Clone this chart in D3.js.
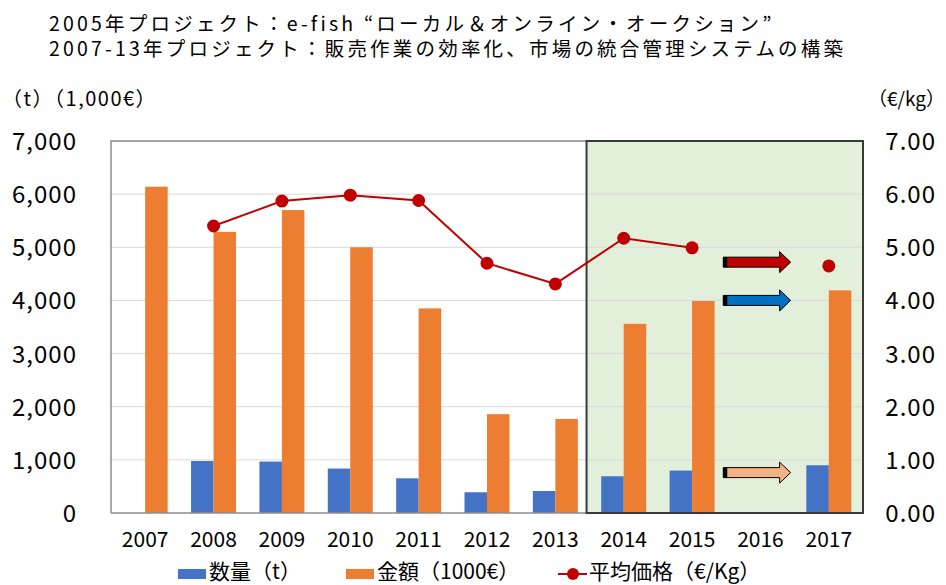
<!DOCTYPE html>
<html>
<head>
<meta charset="utf-8">
<script src="https://cdn.jsdelivr.net/npm/d3@7"></script>
<style>
  body { margin: 0; background: #ffffff; }
  text { font-family: "Noto Sans CJK JP", "Noto Sans", sans-serif; fill: #000000; }
</style>
</head>
<body>
<svg id="chart" width="946" height="585"></svg>
<script>
// data
const years = ["2007", "2008", "2009", "2010", "2011", "2012", "2013", "2014", "2015", "2016", "2017"];
const quantity = [null, 979, 968, 836, 653, 390, 414, 691, 798, null, 898];        // t
const amount = [6140, 5290, 5700, 5000, 3850, 1860, 1770, 3560, 3990, null, 4190]; // 1000 EUR
const avgPrice = [null, 5.40, 5.87, 5.98, 5.88, 4.70, 4.31, 5.17, 4.99, null, 4.65]; // EUR/kg
const leftTicks = [0, 1000, 2000, 3000, 4000, 5000, 6000, 7000];
const rightTicks = [0, 1, 2, 3, 4, 5, 6, 7];
const titleLines = [
  "2005年プロジェクト：e-fish “ローカル＆オンライン・オークション”",
  "2007-13年プロジェクト：販売作業の効率化、市場の統合管理システムの構築"
];
const legendLabels = ["数量（t）", "金額（1000€）", "平均価格（€/Kg）"];
const highlightYears = ["2014", "2017"];
// trend arrows in the 2016 slot: level on its own axis
const arrowLevels = [
  { axis: "right", value: 4.72, color: "#c00000" },
  { axis: "left", value: 4000, color: "#0070c0" },
  { axis: "left", value: 760, color: "#f4b183" }
];

const blueColor = "#4472c4";
const orangeColor = "#ed7d31";
const redColor = "#c00000";

const plotLeft = 111, plotRight = 863, plotTop = 141, plotBottom = 513;

let svg = d3.select("#chart");

let x = d3.scaleBand()
  .domain(years)
  .range([plotLeft, plotRight])
  .paddingInner(0.342)
  .paddingOuter(0.171);

let xStep = d3.scaleBand()
  .domain(years)
  .range([plotLeft, plotRight]);

let xSeries = d3.scaleBand()
  .domain(["quantity", "amount"])
  .range([0, x.bandwidth()]);

let yLeft = d3.scaleLinear()
  .domain([0, 7000])
  .range([plotBottom, plotTop]);

let yRight = d3.scaleLinear()
  .domain([0, 7])
  .range([plotBottom, plotTop]);

// green box for the later project years
let boxX0 = xStep(highlightYears[0]) - 3;
let boxX1 = xStep(highlightYears[1]) + xStep.step();
svg.append("rect")
  .attr("x", boxX0)
  .attr("y", plotTop)
  .attr("width", boxX1 - boxX0)
  .attr("height", plotBottom - plotTop)
  .style("fill", "#e2efda");

// gridlines
svg.append("g")
  .selectAll("line")
  .data(leftTicks.slice(1))
  .enter()
  .append("line")
  .attr("x1", plotLeft)
  .attr("x2", plotRight)
  .attr("y1", d => yLeft(d))
  .attr("y2", d => yLeft(d))
  .style("stroke", "#d9d9d9")
  .style("stroke-width", 1);

// plot frame (left, top)
svg.append("path")
  .attr("d", "M" + plotLeft + "," + plotBottom + "V" + plotTop + "H" + boxX0)
  .style("fill", "none")
  .style("stroke", "#8c8c8c")
  .style("stroke-width", 1.5);

let rows = years.map((y, i) => ({ year: y, quantity: quantity[i], amount: amount[i], price: avgPrice[i] }));

// bars
svg.append("g")
  .selectAll("rect")
  .data(rows.filter(d => d.quantity != null))
  .enter()
  .append("rect")
  .attr("x", d => x(d.year) + xSeries("quantity"))
  .attr("y", d => yLeft(d.quantity))
  .attr("width", xSeries.bandwidth())
  .attr("height", d => yLeft(0) - yLeft(d.quantity))
  .style("fill", blueColor);

svg.append("g")
  .selectAll("rect")
  .data(rows.filter(d => d.amount != null))
  .enter()
  .append("rect")
  .attr("x", d => x(d.year) + xSeries("amount"))
  .attr("y", d => yLeft(d.amount))
  .attr("width", xSeries.bandwidth())
  .attr("height", d => yLeft(0) - yLeft(d.amount))
  .style("fill", orangeColor);

// bottom axis line
svg.append("line")
  .attr("x1", plotLeft)
  .attr("x2", boxX0)
  .attr("y1", plotBottom)
  .attr("y2", plotBottom)
  .style("stroke", "#8c8c8c")
  .style("stroke-width", 1.5);

// green box border on top
svg.append("rect")
  .attr("x", boxX0)
  .attr("y", plotTop)
  .attr("width", boxX1 - boxX0)
  .attr("height", plotBottom - plotTop)
  .style("fill", "none")
  .style("stroke", "#3a3a3a")
  .style("stroke-width", 2);

// price line
let cx = d => x(d.year) + x.bandwidth() / 2;
svg.append("path")
  .datum(rows)
  .attr("d", d3.line()
    .defined(d => d.price != null)
    .x(cx)
    .y(d => yRight(d.price)))
  .style("fill", "none")
  .style("stroke", redColor)
  .style("stroke-width", 2);

svg.append("g")
  .selectAll("circle")
  .data(rows.filter(d => d.price != null))
  .enter()
  .append("circle")
  .attr("cx", cx)
  .attr("cy", d => yRight(d.price))
  .attr("r", 6.5)
  .style("fill", redColor);

// arrows
let arrowYear = "2016";
arrowLevels.forEach(function (a) {
  let yy = a.axis == "right" ? yRight(a.value) : yLeft(a.value);
  let ax0 = xStep(arrowYear) - 3;
  let ax1 = xStep(arrowYear) + xStep.step() - 4;
  let headLen = 11, bodyH = 5, headH = 10.5;
  let g = svg.append("g");
  g.append("path")
    .attr("d", "M" + ax0 + "," + (yy - bodyH) +
      "H" + (ax1 - headLen) + "V" + (yy - headH) +
      "L" + ax1 + "," + yy +
      "L" + (ax1 - headLen) + "," + (yy + headH) +
      "V" + (yy + bodyH) + "H" + ax0 + "Z")
    .style("fill", a.color)
    .style("stroke", "#000000")
    .style("stroke-width", 1);
  g.append("rect")
    .attr("x", ax0)
    .attr("y", yy - bodyH)
    .attr("width", 4)
    .attr("height", bodyH * 2)
    .style("fill", "#000000");
});

// left ticks
svg.append("g")
  .selectAll("text")
  .data(leftTicks)
  .enter()
  .append("text")
  .attr("x", 77)
  .attr("y", d => yLeft(d) + 9)
  .text(d => d3.format(",")(d))
  .style("font-size", "24px")
  .style("letter-spacing", "1px")
  .style("text-anchor", "end");

// right ticks
svg.append("g")
  .selectAll("text")
  .data(rightTicks)
  .enter()
  .append("text")
  .attr("x", 936)
  .attr("y", d => yRight(d) + 9)
  .text(d => d3.format(".2f")(d))
  .style("font-size", "24px")
  .style("letter-spacing", "1px")
  .style("text-anchor", "end");

// x labels
svg.append("g")
  .selectAll("text")
  .data(years)
  .enter()
  .append("text")
  .attr("x", d => x(d) + x.bandwidth() / 2)
  .attr("y", 547)
  .text(d => d)
  .style("font-size", "21px")
  .style("text-anchor", "middle");

// title, two lines
svg.append("g")
  .selectAll("text")
  .data(titleLines)
  .enter()
  .append("text")
  .attr("x", 49)
  .attr("y", (d, i) => 31 + i * 25)
  .text(d => d)
  .style("font-size", "19.5px")
  .style("letter-spacing", "3.2px");

// axis units
svg.append("text")
  .attr("x", 2)
  .attr("y", 106)
  .text("（t）（1,000€）")
  .style("font-size", "20px")
  .style("letter-spacing", "1.5px");

svg.append("text")
  .attr("x", 945)
  .attr("y", 106)
  .text("（€/kg）")
  .style("font-size", "19px")
  .style("text-anchor", "end");

// legend
let legendX = [178, 346, 558];
let legend = svg.append("g");
legend.append("rect")
  .attr("x", legendX[0]).attr("y", 569).attr("width", 28).attr("height", 10)
  .style("fill", blueColor);
legend.append("rect")
  .attr("x", legendX[1]).attr("y", 569).attr("width", 28).attr("height", 10)
  .style("fill", orangeColor);
legend.append("line")
  .attr("x1", legendX[2]).attr("x2", legendX[2] + 29)
  .attr("y1", 574).attr("y2", 574)
  .style("stroke", redColor).style("stroke-width", 2);
legend.append("circle")
  .attr("cx", legendX[2] + 15).attr("cy", 574).attr("r", 6)
  .style("fill", redColor);
legend.selectAll("text")
  .data(legendLabels)
  .enter()
  .append("text")
  .attr("x", (d, i) => legendX[i] + 31)
  .attr("y", 579)
  .text(d => d)
  .style("font-size", "21px");
</script>
</body>
</html>
